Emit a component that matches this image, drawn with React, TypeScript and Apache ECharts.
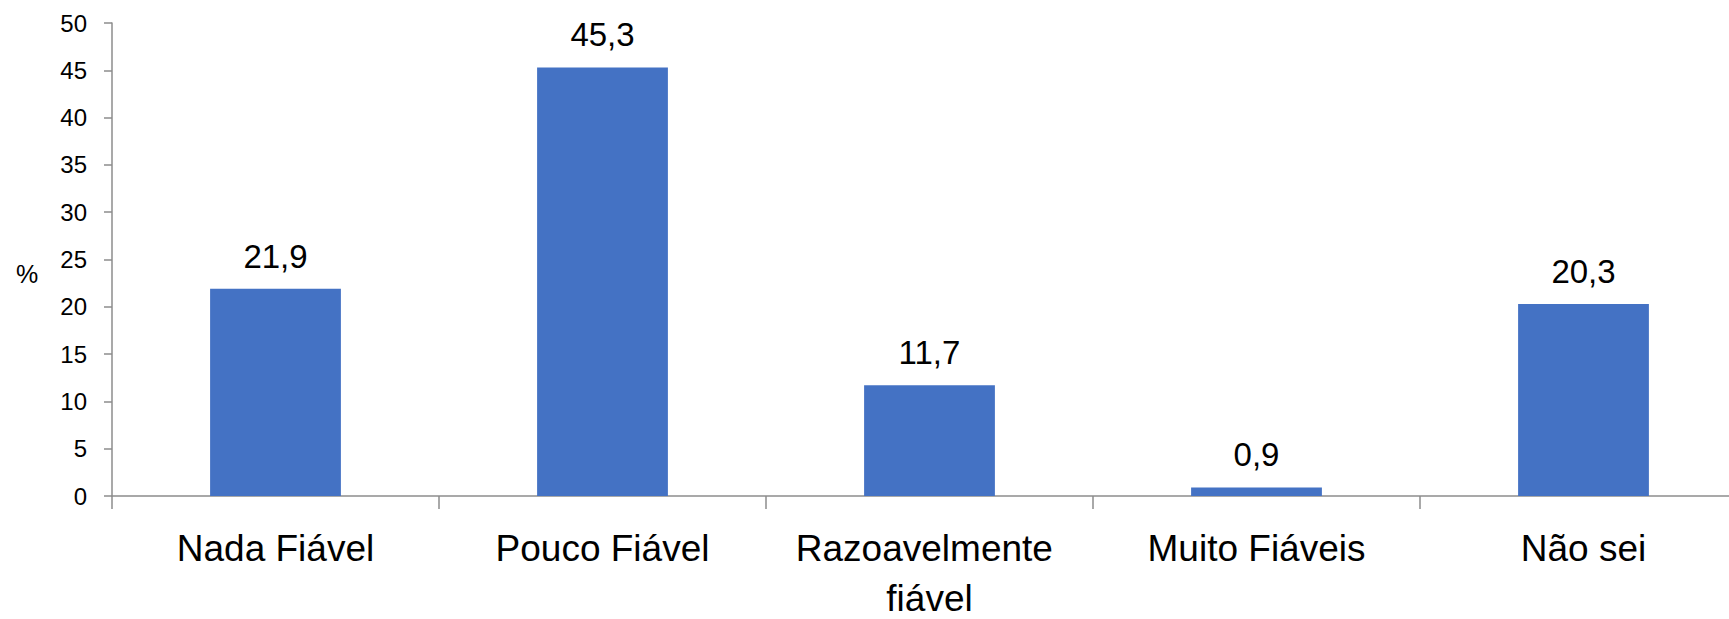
import React, { useEffect, useRef } from "react";
import * as echarts from "echarts";

const categories = ["Nada Fiável", "Pouco Fiável", "Razoavelmente fiável", "Muito Fiáveis", "Não sei"];
const values = [21.9, 45.3, 11.7, 0.9, 20.3];
const yTicks = { min: 0, max: 50, interval: 5 };
const yUnit = "%";

const FONT = "'Liberation Sans', Arial, sans-serif";
const AXIS_COLOR = "#8c8c8c";

export default function App() {
  const ref = useRef<HTMLDivElement>(null);
  useEffect(() => {
    document.body.style.margin = "0";
    if (!ref.current) return;
    const chart = echarts.init(ref.current, undefined, { renderer: "svg" });
    chart.setOption({
      animation: false,
      backgroundColor: "#ffffff",
      textStyle: { fontFamily: FONT },
      grid: {
        left: 112,
        top: 23,
        width: 1635,
        height: 473,
        containLabel: false,
        outerBoundsMode: "none",
      },
      graphic: [
        {
          type: "text",
          left: 16,
          top: 261,
          style: { text: yUnit, fontSize: 25, fontFamily: FONT, fill: "#000" },
        },
      ],
      xAxis: {
        type: "category",
        data: categories,
        axisLine: { show: true, lineStyle: { color: AXIS_COLOR, width: 1.5 } },
        axisTick: { show: true, length: 13, alignWithLabel: false, lineStyle: { color: AXIS_COLOR, width: 1.5 } },
        axisLabel: {
          color: "#000",
          fontSize: 37,
          fontFamily: FONT,
          margin: 27,
          lineHeight: 50,
          width: 320,
          overflow: "break",
          interval: 0,
        },
      },
      yAxis: {
        type: "value",
        min: yTicks.min,
        max: yTicks.max,
        interval: yTicks.interval,
        axisLine: { show: true, lineStyle: { color: AXIS_COLOR, width: 1.5 } },
        axisTick: { show: true, length: 8, lineStyle: { color: AXIS_COLOR, width: 1.5 } },
        splitLine: { show: false },
        axisLabel: { color: "#000", fontSize: 24, fontFamily: FONT, margin: 25 },
      },
      series: [
        {
          type: "bar",
          data: values,
          barWidth: "40%",
          itemStyle: { color: "#4472C4" },
          label: {
            show: true,
            position: "top",
            distance: 16,
            color: "#000",
            fontSize: 33,
            fontFamily: FONT,
            formatter: (p: any) => String(p.value).replace(".", ","),
          },
        },
      ],
    });
    return () => chart.dispose();
  }, []);
  return <div ref={ref} style={{ width: 1729, height: 619 }} />;
}
